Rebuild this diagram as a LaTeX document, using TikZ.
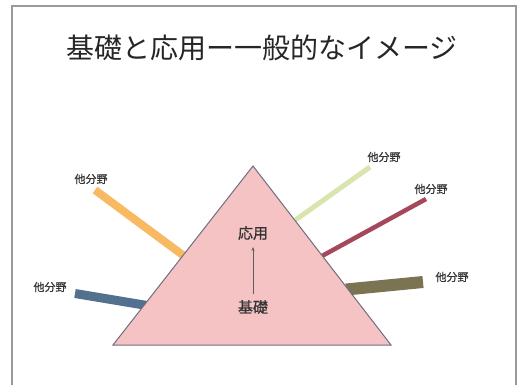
\documentclass[tikz,border=0pt]{standalone}
\usepackage{fontspec}
\usetikzlibrary{arrows.meta}
\newfontfamily\cjk{Noto Sans CJK JP}
\newfontfamily\cjkb[FakeBold=0.8]{Noto Sans CJK JP}
\definecolor{frame}{HTML}{9A9A9A}
\definecolor{pyr}{HTML}{F5C3C3}
\definecolor{pyredge}{HTML}{6E6E7E}
\definecolor{cOrange}{HTML}{F7BA62}
\definecolor{cBlue}{HTML}{53708F}
\definecolor{cLime}{HTML}{D9E5AE}
\definecolor{cRed}{HTML}{A6485B}
\definecolor{cOlive}{HTML}{7A7452}
\definecolor{txt}{HTML}{333333}
\tikzset{
  lbl/.style={font=\cjkb\fontsize{11}{13}\selectfont, text=txt, inner sep=0pt},
  inner/.style={font=\cjkb\fontsize{15}{18}\selectfont, text=txt, inner sep=0pt},
  bar/.style={line cap=butt},
}
\begin{document}
\begin{tikzpicture}[x=1pt,y=-1pt]
\useasboundingbox (0,0) rectangle (522,385);
\fill[white] (0,0) rectangle (522,385);
% frame
\draw[frame, line width=1.2pt] (12,386) -- (12,6) -- (516,6) -- (516,386);
% title
\node[font=\cjk\fontsize{28}{32}\selectfont, text=black!85, inner sep=0pt] (title) at (262,48) {基礎と応用ー一般的なイメージ};
% bars (drawn first so the triangle edge sits on them)
\coordinate (o1) at (95,190);  \coordinate (o2) at (184,256);
\coordinate (b1) at (75,293.5); \coordinate (b2) at (147,305.5);
\coordinate (g1) at (370,167); \coordinate (g2) at (294,221);
\coordinate (r1) at (426,199); \coordinate (r2) at (322,256);
\coordinate (v1) at (423,282); \coordinate (v2) at (346,289.5);
\draw[bar, cOrange, line width=8pt] (o1) -- (o2);
\draw[bar, cBlue, line width=9pt] (b1) -- (b2);
\draw[bar, cLime, line width=5pt] (g1) -- (g2);
\draw[bar, cRed, line width=4.5pt] (r1) -- (r2);
\draw[bar, cOlive, line width=12pt] (v1) -- (v2);
% pyramid
\coordinate (apex) at (253,166);
\coordinate (bl) at (113,345);
\coordinate (br) at (391,345);
\filldraw[fill=pyr, draw=pyredge, line width=1pt, line join=miter] (apex) -- (br) -- (bl) -- cycle;
% inner text
\node[inner] (ouyou) at (253,233) {応用};
\node[inner] (kiso) at (253,307) {基礎};
\coordinate (ab) at (253,294);
\coordinate (at) at (253,247);
\draw[-{Stealth[length=4pt,width=3pt]}, draw=txt!80, fill=txt!80, line width=0.8pt] (ab) -- (at);
% labels
\node[lbl] (l1) at (91,179) {他分野};
\node[lbl] (l2) at (50,287) {他分野};
\node[lbl] (l3) at (384,157) {他分野};
\node[lbl] (l4) at (431,189) {他分野};
\node[lbl] (l5) at (452,277) {他分野};
\end{tikzpicture}
\end{document}
